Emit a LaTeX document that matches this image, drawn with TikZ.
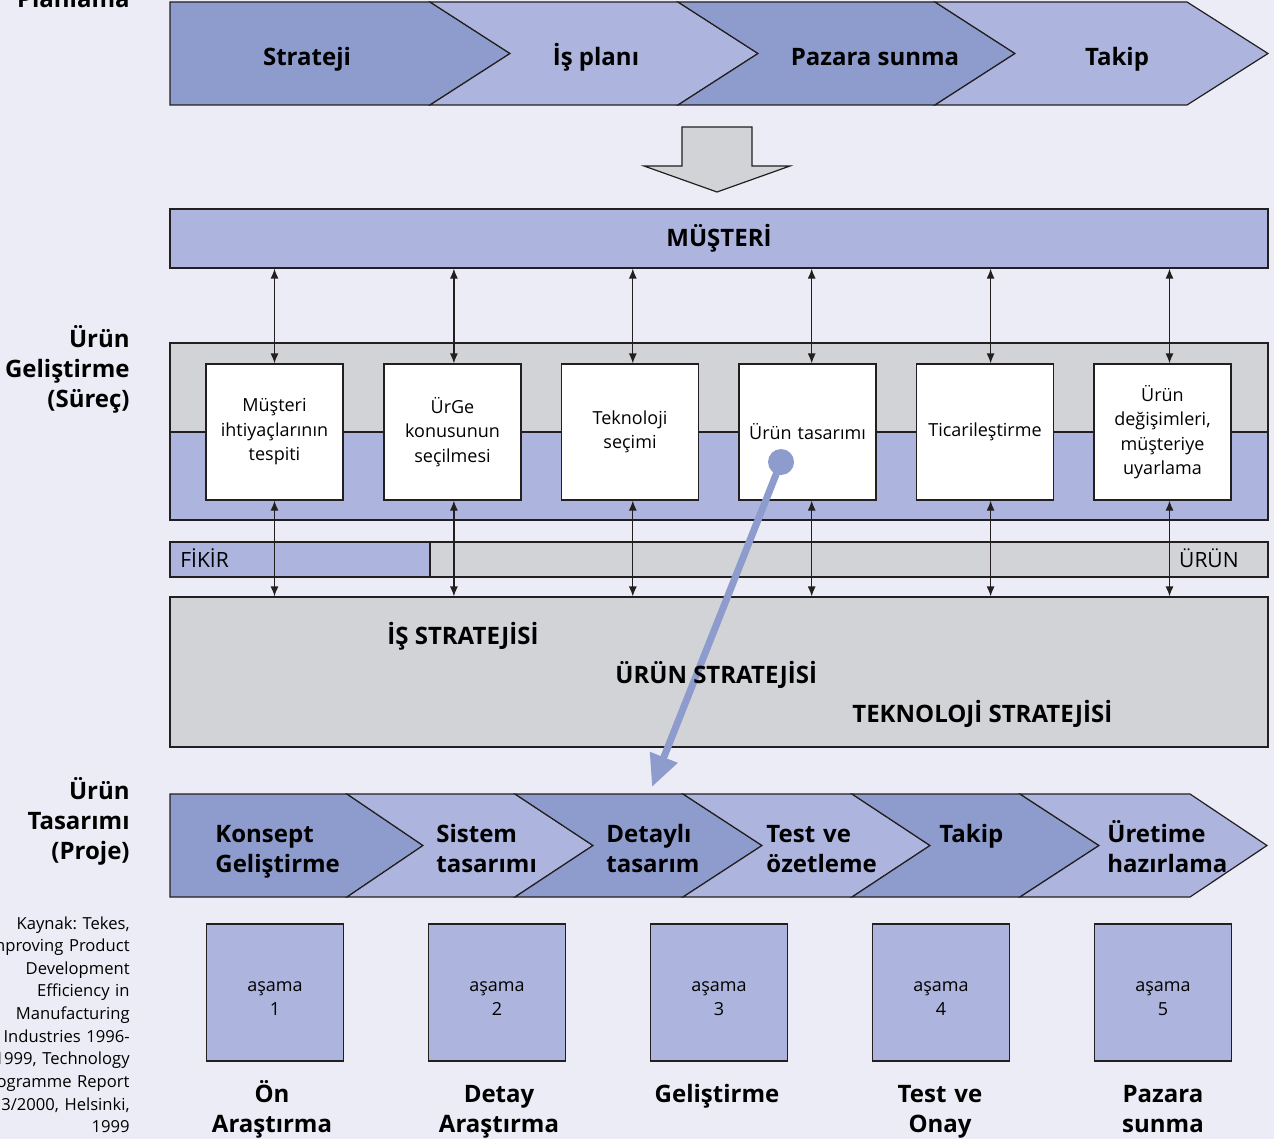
\documentclass[tikz,border=0pt]{standalone}
\usepackage{fontspec}
\setmainfont{Open Sans}
\usepackage{tikz}
\usetikzlibrary{arrows.meta, positioning, calc}
\definecolor{PageBg}{RGB}{236,236,246}
\definecolor{PhaseDark}{RGB}{142,156,205}
\definecolor{PhaseLight}{RGB}{173,181,222}
\definecolor{BandGray}{RGB}{210,211,214}
\definecolor{LineBlack}{RGB}{35,31,32}
\frenchspacing

\newcommand{\headfont}{\fontsize{12}{15}\selectfont\bfseries}
\newcommand{\boxfont}{\fontsize{9}{12.25}\selectfont}
\newcommand{\srcfont}{\fontsize{8.3}{11.33}\selectfont}
\newcommand{\barfont}{\fontsize{10.5}{12}\selectfont}

\tikzset{
  outline/.style={draw=LineBlack, line width=0.6pt},
  stepbox/.style={outline, fill=white, minimum width=68.5pt, minimum height=68pt,
                  inner sep=2pt, text width=64pt, align=center, font=\boxfont},
  stagebox/.style={outline, fill=PhaseLight, minimum size=68.5pt},
  stagetext/.style={inner sep=0pt, align=center, font=\boxfont},
  phaselabel/.style={anchor=base, inner sep=0pt, font=\headfont},
  chevlabel/.style={anchor=base west, inner sep=0pt, text width=90pt, align=left, font=\headfont},
  stagename/.style={anchor=base, inner sep=0pt, text width=90pt, align=center, font=\headfont},
  sidelabel/.style={anchor=base east, inner sep=0pt, text width=70pt, align=right, font=\headfont},
  srclabel/.style={anchor=base east, inner sep=0pt, text width=100pt, align=right, font=\srcfont},
  stratlabel/.style={anchor=base west, inner sep=0pt, font=\headfont},
  barlabel/.style={inner sep=0pt, font=\barfont},
  link/.style={outline, {Latex[length=5pt,width=4pt]}-{Latex[length=5pt,width=4pt]}}
}

\begin{document}
\begin{tikzpicture}[x=0.5pt, y=-0.5pt]
  \useasboundingbox (0,0) rectangle (1274,1139);
  \fill[PageBg] (0,0) rectangle (1274,1139);

  % planlama chevrons
  \foreach \xa/\xb/\xt/\xn/\col in {170/430/510/170/PhaseDark, 430/678/758/510/PhaseLight,
                                    678/935/1015/758/PhaseDark, 935/1187/1268/1015/PhaseLight}
    \draw[outline, fill=\col] (\xa,2) -- (\xb,2) -- (\xt,53.5) -- (\xb,105) -- (\xa,105) -- (\xn,53.5) -- cycle;
  \foreach \x/\txt [count=\i] in {307/Strateji, 596/İş planı, 875/Pazara sunma, 1117/Takip}
    \node[phaselabel] (plan\i) at (\x,66) {\txt};

  % down arrow
  \draw[outline, fill=BandGray] (682,127) -- (752,127) -- (752,166) -- (790,166)
    -- (717,192) -- (644,166) -- (682,166) -- cycle;

  \node[outline, fill=PhaseLight, minimum width=549pt, minimum height=29.5pt,
        font=\headfont] (must) at (719,238.5) {MÜŞTERİ};

  % process band
  \fill[BandGray] (170,343) rectangle (1268,432);
  \fill[PhaseLight] (170,432) rectangle (1268,520);
  \draw[outline] (170,432) -- (1268,432);
  \draw[outline] (170,343) rectangle (1268,520);

  \foreach \x/\txt [count=\i] in {274.5/{Müşteri\\ihtiyaçlarının\\tespiti},
                                  452.5/{ÜrGe\\konusunun\\seçilmesi},
                                  630/{Teknoloji\\seçimi},
                                  807.5/{Ürün tasarımı},
                                  985/{Ticarileştirme},
                                  1162.5/{Ürün\\değişimleri,\\müşteriye\\uyarlama}}
    \node[stepbox] (p\i) at (\x,432) {\txt};

  % fikir - urun bar
  \fill[BandGray] (170,542) rectangle (1268,577);
  \fill[PhaseLight] (170,542) rectangle (430,577);
  \draw[outline] (430,542) -- (430,577);
  \draw[outline] (170,542) rectangle (1268,577);
  \node[barlabel, anchor=base west] (idea) at (180,567) {FİKİR};
  \node[barlabel, anchor=base east] (prod) at (1239,567) {ÜRÜN};

  \node[outline, fill=BandGray, minimum width=549pt, minimum height=75pt] (strat) at (719,672) {};

  \foreach \i in {1,...,6} {
    \coordinate (a\i) at ([xshift={0.7pt*(\i-1)}]p\i.center);
    \draw[link] (a\i |- p\i.north) -- (a\i |- must.south);
    \draw[link] (a\i |- p\i.south) -- (a\i |- strat.north);
  }

  % tasarim arrow
  \node[circle, fill=PhaseDark, minimum size=13pt, inner sep=0pt] (dot) at (781,462) {};
  \coordinate (hit) at (652,787);
  \draw[PhaseDark, line width=3.5pt, -{Triangle[length=16pt,width=14pt]}] (dot.center) -- (hit);

  \node[stratlabel] (isstr) at (387,644) {İŞ STRATEJİSİ};
  \node[stratlabel] (urstr) at (615,683) {ÜRÜN STRATEJİSİ};
  \node[stratlabel] (tkstr) at (852,722) {TEKNOLOJİ STRATEJİSİ};

  % proje chevrons
  \foreach \xa/\xb/\xt/\xn/\col in {170/347/423/170/PhaseDark, 347/515/593/423/PhaseLight,
                                    515/683/762/593/PhaseDark, 683/852/930/762/PhaseLight,
                                    852/1020/1099/930/PhaseDark, 1020/1190/1267/1099/PhaseLight}
    \draw[outline, fill=\col] (\xa,794) -- (\xb,794) -- (\xt,845.5) -- (\xb,897) -- (\xa,897) -- (\xn,845.5) -- cycle;
  \foreach \x/\txt [count=\i] in {215/{Konsept\\Geliştirme}, 436/{Sistem\\tasarımı},
                                  606/{Detaylı\\tasarım}, 766/{Test ve\\özetleme},
                                  939/{Takip}, 1107/{Üretime\\hazırlama}}
    \node[chevlabel] (proj\i) at (\x,842) {\txt};

  % stages
  \foreach \x [count=\i] in {275, 497, 719, 941, 1163} {
    \node[stagebox] (s\i) at (\x,992.5) {};
    \node[stagetext] (t\i) at ([yshift=-3pt]s\i.center) {aşama\\\i};
  }
  \foreach \x/\txt [count=\i] in {272/{Ön\\Araştırma}, 499/{Detay\\Araştırma}, 717/{Geliştirme},
                                  940/{Test ve\\Onay}, 1163/{Pazara\\sunma}}
    \node[stagename] (n\i) at (\x,1102) {\txt};

  % left side
  \node[sidelabel] (lblplan) at (130,8) {Planlama};
  \node[sidelabel] (lbldev) at (130,347) {Ürün\\Geliştirme\\(Süreç)};
  \node[sidelabel] (lbldes) at (130,799) {Ürün\\Tasarımı\\(Proje)};
  \node[srclabel] (src) at (130,929) {Kaynak: Tekes,\\Improving Product\\Development\\Efficiency in\\Manufacturing\\Industries 1996-\\1999, Technology\\Programme Report\\3/2000, Helsinki,\\1999};
\end{tikzpicture}
\end{document}
